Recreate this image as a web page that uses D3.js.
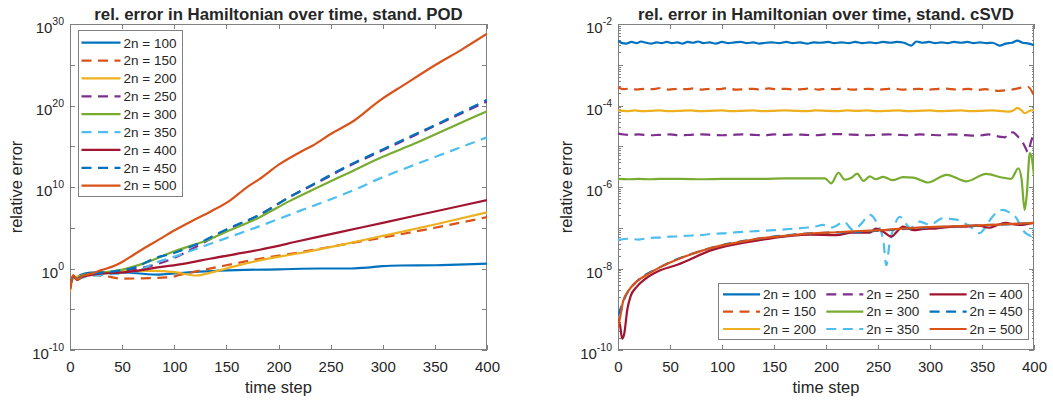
<!DOCTYPE html>
<html>
<head>
<meta charset="utf-8">
<script src="https://cdn.jsdelivr.net/npm/d3@7"></script>
<style>
body { margin: 0; background: #fff; }
svg text { font-family: "Liberation Sans", Arial, Helvetica, sans-serif; fill: #262626; }
</style>
</head>
<body>
<svg id="chart" width="1053" height="401"></svg>
<script>
// series labels, colours and line styles (MATLAB default order)
var basisSizes = [100, 150, 200, 250, 300, 350, 400, 450, 500];
var lineColors = ["#0072BD", "#D95319", "#EDB120", "#7E2F8E", "#77AC30", "#4DBEEE", "#A2142F", "#0072BD", "#D95319"];
var lineDashed = [false, true, false, true, false, true, false, true, false];

// axis ticks
var stepTicks = [0, 50, 100, 150, 200, 250, 300, 350, 400];
var podMajorExp = [-10, 0, 10, 20, 30];
var podMinorExp = [-5, 5, 15, 25];
var svdMajorExp = [-10, -8, -6, -4, -2];

// stand. POD: [time step, log10(relative error)]
var pod100 = [[0,-2.6],[3,-1.0],[6,-1.3],[10,-0.8],[20,-0.5],[40,-0.45],[60,-0.55],[85,-0.75],[100,-0.6],[130,-0.35],[160,-0.2],[200,-0.1],[240,0],[270,0.0],[285,0.1],[300,0.3],[317,0.37],[350,0.4],[380,0.5],[400,0.6]];
var pod150 = [[0,-2.2],[3,-0.9],[6,-1.4],[10,-1.0],[20,-0.8],[32,-0.9],[50,-1.25],[70,-1.2],[96,-1.06],[105,-0.8],[125,-0.25],[150,0.4],[182,1.2],[221,2.0],[260,2.9],[300,3.8],[350,5.0],[400,6.3]];
var pod200 = [[0,-2.8],[3,-1.2],[7,-1.0],[12,-0.9],[20,-0.8],[40,-0.5],[60,-0.3],[80,-0.3],[100,-0.45],[121,-0.86],[135,-0.5],[150,0],[182,1.0],[221,1.9],[260,2.9],[300,4.0],[350,5.4],[400,6.9]];
var pod250 = [[0,-2.2],[3,-1.0],[7,-1.3],[12,-0.9],[25,-0.7],[40,-0.45],[55,-0.2],[70,0.1],[85,0.6],[100,1.3],[120,2.6],[150,4.7],[182,6.6],[211,8.8],[240,10.7],[265,12.4],[300,14.5],[330,16.3],[365,18.4],[400,20.5]];
var pod300 = [[0,-2.4],[3,-1.1],[7,-1.2],[12,-0.8],[25,-0.6],[48,-0.2],[70,0.6],[102,2.2],[134,3.6],[150,4.5],[182,6.3],[211,8.3],[240,10.1],[265,11.6],[300,13.7],[330,15.3],[365,17.3],[400,19.3]];
var pod350 = [[0,-2.4],[3,-1.0],[7,-1.3],[15,-1.0],[30,-0.8],[50,-0.6],[65,-0.3],[80,0.6],[99,1.4],[134,3.0],[182,5.2],[221,7.1],[240,8.0],[270,9.5],[300,11.2],[330,12.7],[365,14.4],[400,16.1]];
var pod400 = [[0,-2.5],[3,-0.9],[7,-1.4],[12,-1.0],[25,-0.7],[54,-0.45],[86,0.16],[110,0.6],[134,1.2],[182,2.3],[221,3.4],[260,4.5],[300,5.6],[350,7.0],[400,8.4]];
var pod450 = [[0,-2.3],[3,-1.0],[7,-1.2],[12,-0.9],[25,-0.6],[45,-0.3],[64,0.2],[80,1.2],[100,1.9],[120,2.9],[150,4.8],[182,6.6],[211,8.8],[240,10.8],[265,12.5],[300,14.6],[330,16.4],[365,18.5],[400,20.7]];
var pod500 = [[0,-2.6],[3,-0.8],[7,-1.4],[12,-0.9],[22,-0.6],[30,-0.2],[40,0.2],[50,0.8],[60,1.6],[70,2.4],[86,3.6],[99,4.6],[118,5.9],[135,7.0],[153,8.3],[169,9.9],[182,11.0],[201,12.8],[221,14.3],[233,15.1],[250,16.5],[272,18.1],[297,20.6],[320,22.5],[352,25.1],[375,26.8],[400,28.8]];

// stand. cSVD: [time step, log10(relative error)]
var svd100 = [[0,-2.41],[4,-2.47],[8,-2.48],[13,-2.44],[18,-2.47],[22,-2.43],[27,-2.46],[32,-2.48],[37,-2.45],[42,-2.47],[47,-2.44],[52,-2.47],[57,-2.45],[62,-2.48],[67,-2.44],[72,-2.46],[77,-2.43],[82,-2.47],[88,-2.45],[94,-2.48],[100,-2.44],[106,-2.47],[112,-2.45],[118,-2.44],[124,-2.47],[130,-2.45],[136,-2.48],[142,-2.46],[148,-2.45],[155,-2.47],[162,-2.44],[168,-2.47],[175,-2.45],[182,-2.48],[188,-2.45],[195,-2.46],[202,-2.44],[208,-2.47],[215,-2.45],[222,-2.47],[228,-2.44],[235,-2.47],[242,-2.45],[248,-2.47],[255,-2.44],[262,-2.46],[268,-2.44],[275,-2.46],[282,-2.53],[287,-2.43],[293,-2.46],[299,-2.44],[305,-2.47],[311,-2.45],[317,-2.47],[323,-2.44],[330,-2.46],[336,-2.44],[342,-2.47],[348,-2.45],[354,-2.47],[360,-2.46],[367,-2.53],[373,-2.48],[379,-2.46],[384,-2.41],[389,-2.46],[395,-2.48],[400,-2.52]];
var svd150 = [[0,-3.56],[6,-3.6],[12,-3.58],[18,-3.61],[25,-3.59],[33,-3.6],[41,-3.57],[49,-3.61],[57,-3.59],[65,-3.6],[73,-3.58],[81,-3.61],[89,-3.59],[97,-3.6],[105,-3.57],[113,-3.61],[121,-3.6],[129,-3.59],[137,-3.61],[145,-3.58],[153,-3.6],[161,-3.59],[169,-3.61],[177,-3.6],[185,-3.58],[193,-3.61],[201,-3.59],[209,-3.6],[217,-3.58],[225,-3.61],[233,-3.6],[241,-3.59],[249,-3.61],[257,-3.6],[265,-3.58],[273,-3.61],[281,-3.6],[289,-3.59],[297,-3.61],[305,-3.6],[313,-3.58],[321,-3.6],[329,-3.61],[337,-3.59],[345,-3.62],[353,-3.6],[361,-3.63],[367,-3.64],[374,-3.62],[381,-3.6],[388,-3.56],[394,-3.54],[400,-3.76]];
var svd200 = [[0,-4.12],[8,-4.14],[16,-4.12],[24,-4.14],[32,-4.13],[40,-4.12],[50,-4.14],[60,-4.13],[70,-4.12],[80,-4.14],[90,-4.13],[100,-4.12],[110,-4.14],[120,-4.13],[130,-4.12],[140,-4.14],[150,-4.13],[160,-4.12],[170,-4.13],[180,-4.14],[190,-4.12],[200,-4.13],[210,-4.14],[220,-4.12],[230,-4.13],[240,-4.12],[250,-4.14],[260,-4.13],[270,-4.12],[280,-4.14],[290,-4.13],[300,-4.12],[310,-4.14],[320,-4.13],[330,-4.12],[340,-4.14],[350,-4.13],[360,-4.12],[370,-4.14],[376,-4.15],[380,-4.12],[384,-4.06],[388,-4.12],[391,-4.19],[395,-4.14],[400,-4.11]];
var svd250 = [[0,-4.69],[10,-4.72],[20,-4.71],[30,-4.73],[40,-4.72],[50,-4.71],[60,-4.73],[70,-4.72],[80,-4.71],[90,-4.72],[100,-4.73],[110,-4.72],[120,-4.71],[130,-4.72],[140,-4.73],[150,-4.71],[160,-4.72],[170,-4.71],[180,-4.72],[190,-4.73],[200,-4.71],[210,-4.70],[220,-4.71],[230,-4.72],[240,-4.73],[250,-4.72],[260,-4.71],[270,-4.72],[280,-4.73],[290,-4.71],[300,-4.72],[310,-4.73],[320,-4.71],[330,-4.72],[340,-4.74],[350,-4.73],[356,-4.71],[362,-4.74],[368,-4.77],[372,-4.78],[376,-4.67],[380,-4.66],[384,-4.75],[388,-4.86],[392,-5.05],[394,-5.15],[397,-4.9],[400,-4.66]];
var svd300 = [[0,-5.80],[10,-5.81],[20,-5.80],[30,-5.81],[40,-5.80],[60,-5.80],[80,-5.81],[100,-5.80],[120,-5.80],[140,-5.80],[160,-5.79],[180,-5.79],[199,-5.79],[205,-5.91],[212,-5.65],[218,-5.82],[224,-5.78],[230,-5.67],[236,-5.85],[242,-5.74],[248,-5.81],[255,-5.75],[264,-5.83],[274,-5.76],[284,-5.77],[298,-5.89],[316,-5.70],[335,-5.86],[354,-5.68],[368,-5.76],[378,-5.80],[385,-5.54],[388,-5.8],[391,-6.56],[393,-6.2],[396,-5.17],[398,-5.3],[400,-5.72]];
var svd350 = [[0,-7.30],[10,-7.27],[20,-7.29],[30,-7.25],[40,-7.24],[50,-7.22],[60,-7.21],[70,-7.19],[80,-7.18],[90,-7.15],[100,-7.14],[110,-7.12],[121,-7.10],[135,-7.08],[150,-7.06],[165,-7.03],[180,-7.00],[190,-6.97],[197,-6.93],[204,-7.0],[210,-6.95],[217,-6.85],[226,-7.05],[234,-6.9],[242,-6.68],[249,-6.89],[255,-7.3],[258,-7.92],[261,-7.4],[265,-7.01],[271,-6.73],[281,-7.0],[290,-6.85],[300,-6.93],[312,-6.77],[325,-6.8],[338,-6.96],[348,-7.13],[353,-7.0],[360,-6.73],[370,-6.56],[376,-6.62],[383,-6.76],[389,-7.05],[393,-7.15],[397,-7.2],[400,-7.0]];
var svd400 = [[0,-9.25],[2,-9.4],[4,-9.72],[6,-9.6],[9,-9.0],[12,-8.69],[18,-8.45],[25,-8.28],[40,-8.05],[57,-7.91],[90,-7.55],[137,-7.3],[185,-7.17],[210,-7.18],[225,-7.12],[235,-7.12],[242,-7.12],[248,-7.02],[255,-7.1],[263,-7.22],[268,-7.1],[274,-6.97],[284,-7.06],[294,-7.03],[305,-7.02],[320,-6.98],[335,-6.97],[347,-6.95],[357,-7.0],[365,-6.93],[373,-6.88],[381,-6.92],[389,-6.93],[395,-6.9],[400,-6.88]];
var svd450 = [[0,-9.15],[3,-8.95],[6,-8.75],[10,-8.55],[18,-8.32],[41,-7.96],[89,-7.5],[137,-7.26],[185,-7.14],[233,-7.1],[281,-7.02],[329,-6.96],[360,-6.93],[393,-6.89],[400,-6.88]];
var svd500 = [[0,-9.45],[2,-9.2],[5,-8.8],[10,-8.55],[18,-8.32],[28,-8.15],[41,-7.96],[60,-7.75],[89,-7.5],[115,-7.36],[137,-7.26],[160,-7.2],[185,-7.14],[210,-7.11],[233,-7.08],[258,-7.05],[281,-7.01],[305,-6.98],[329,-6.96],[360,-6.93],[393,-6.89],[400,-6.88]];

var panelTop = 24, panelBottom = 350;
var axisColor = "#808080";

var svg = d3.select("#chart");

//Draw one subplot: frame, ticks, labels, lines and legend
function drawPanel(p) {

    var x = d3.scaleLinear().domain([0, 400]).range([p.left, p.right]);
    var y = d3.scaleLog().domain([Math.pow(10, p.minExp), Math.pow(10, p.maxExp)]).range([panelBottom, panelTop]);

    var g = svg.append("g").attr("id", p.id);

    g.append("clipPath").attr("id", "clip-" + p.id)
        .append("rect")
        .attr("x", p.left).attr("y", panelTop)
        .attr("width", p.right - p.left).attr("height", panelBottom - panelTop);

    //Ticks on all four sides, pointing inwards
    var majorY = p.majorExp.map(function(e) { return Math.pow(10, e); });
    var axes = [
        [d3.axisBottom(x).tickValues(stepTicks).tickPadding(11.5), "translate(0," + panelBottom + ")"],
        [d3.axisTop(x).tickValues(stepTicks).tickFormat(""), "translate(0," + panelTop + ")"],
        [d3.axisLeft(y).tickValues(majorY).tickFormat(""), "translate(" + p.left + ",0)"],
        [d3.axisRight(y).tickValues(majorY).tickFormat(""), "translate(" + p.right + ",0)"]
    ];
    axes.forEach(function(a) {
        var ax = g.append("g").attr("transform", a[1])
            .call(a[0].tickSizeInner(-5).tickSizeOuter(0));
        ax.select(".domain").remove();
        ax.selectAll("line").attr("stroke", axisColor).attr("shape-rendering", "crispEdges");
        ax.selectAll("text").attr("font-size", "15px").attr("fill", "#262626")
            .attr("font-family", "Liberation Sans, Arial, sans-serif");
    });

    //Minor ticks on the log axis
    p.minorTicks.forEach(function(t) {
        [p.left, p.right].forEach(function(edge, k) {
            var dir = k === 0 ? 1 : -1;
            g.append("line")
                .attr("x1", edge).attr("x2", edge + dir * t.len)
                .attr("y1", Math.round(y(t.v)) + 0.5).attr("y2", Math.round(y(t.v)) + 0.5)
                .attr("stroke", axisColor).attr("shape-rendering", "crispEdges");
        });
    });

    //Axes box
    g.append("rect")
        .attr("x", p.left + 0.5).attr("y", panelTop + 0.5)
        .attr("width", p.right - p.left - 1).attr("height", panelBottom - panelTop - 1)
        .attr("fill", "none").attr("stroke", axisColor).attr("shape-rendering", "crispEdges");

    //Y tick labels with superscript exponents
    p.majorExp.forEach(function(e) {
        var t = g.append("text")
            .attr("x", p.left - 6)
            .attr("y", y(Math.pow(10, e)) + 9)
            .attr("text-anchor", "end")
            .attr("font-size", "15px");
        t.append("tspan").text("10");
        t.append("tspan").attr("dy", -7.7).attr("font-size", "10.5px").text(String(e));
    });

    //Data lines
    var line = d3.line()
        .x(function(d) { return x(d[0]); })
        .y(function(d) { return y(Math.pow(10, d[1])); })
        .curve(d3.curveMonotoneX);

    var lines = g.append("g").attr("clip-path", "url(#clip-" + p.id + ")");
    p.series.forEach(function(s, i) {
        lines.append("path")
            .attr("d", line(s))
            .attr("fill", "none")
            .attr("stroke", lineColors[i])
            .attr("stroke-width", 2.2)
            .attr("stroke-linejoin", "round")
            .attr("stroke-dasharray", lineDashed[i] ? "10,6.5" : null);
    });

    //Title and axis labels
    g.append("text")
        .attr("x", (p.left + p.right) / 2).attr("y", 19.5)
        .attr("text-anchor", "middle")
        .attr("font-size", "16.8px").attr("font-weight", "bold")
        .attr("fill", "#000")
        .text(p.title);

    g.append("text")
        .attr("x", (p.left + p.right) / 2).attr("y", 393)
        .attr("text-anchor", "middle")
        .attr("font-size", "16.5px")
        .text("time step");

    g.append("text")
        .attr("transform", "translate(" + p.yLabelX + "," + ((panelTop + panelBottom) / 2) + ") rotate(-90)")
        .attr("text-anchor", "middle")
        .attr("font-size", "16.5px")
        .text("relative error");

    //Legend
    var lg = p.legend;
    var rows = lg.rows;
    var box = g.append("g").attr("transform", "translate(" + lg.x + "," + lg.y + ")");
    box.append("rect")
        .attr("x", 0.5).attr("y", 0.5)
        .attr("width", lg.width).attr("height", lg.height)
        .attr("fill", "#fff").attr("stroke", axisColor).attr("shape-rendering", "crispEdges");

    basisSizes.forEach(function(n, i) {
        var c = Math.floor(i / rows), r = i % rows;
        var cx = lg.padX + c * lg.colW, cy = lg.padY + r * lg.rowH;
        box.append("line")
            .attr("x1", cx).attr("x2", cx + lg.lineLen)
            .attr("y1", cy).attr("y2", cy)
            .attr("stroke", lineColors[i]).attr("stroke-width", 2.2)
            .attr("stroke-dasharray", lineDashed[i] ? "10,6.5" : null);
        box.append("text")
            .attr("x", cx + lg.lineLen + 3).attr("y", cy + 4.8)
            .attr("font-size", "13.5px")
            .text("2n = " + n);
    });
}

drawPanel({
    id: "pod", left: 70, right: 487, minExp: -10, maxExp: 30,
    majorExp: podMajorExp,
    minorTicks: podMinorExp.map(function(e) { return {v: Math.pow(10, e), len: 5}; }),
    series: [pod100, pod150, pod200, pod250, pod300, pod350, pod400, pod450, pod500],
    title: "rel. error in Hamiltonian over time, stand. POD",
    yLabelX: 21.5,
    legend: {x: 78, y: 30, width: 104, height: 166, rows: 9, padX: 3.5, padY: 12.7, rowH: 17.87, colW: 0, lineLen: 39}
});

//minor ticks for the cSVD log axis: every k*10^e that is not a labelled decade
var svdMinor = [];
d3.range(-10, -2).forEach(function(e) {
    d3.range(1, 10).forEach(function(k) {
        if (k === 1 && svdMajorExp.indexOf(e) > -1) return;
        svdMinor.push({v: k * Math.pow(10, e), len: k === 1 ? 5 : 2.5});
    });
});

drawPanel({
    id: "svd", left: 618, right: 1034, minExp: -10, maxExp: -2,
    majorExp: svdMajorExp,
    minorTicks: svdMinor,
    series: [svd100, svd150, svd200, svd250, svd300, svd350, svd400, svd450, svd500],
    title: "rel. error in Hamiltonian over time, stand. cSVD",
    yLabelX: 571.5,
    legend: {x: 718, y: 283, width: 310, height: 56, rows: 3, padX: 5, padY: 11.3, rowH: 17.35, colW: 103.3, lineLen: 37}
});
</script>
</body>
</html>
